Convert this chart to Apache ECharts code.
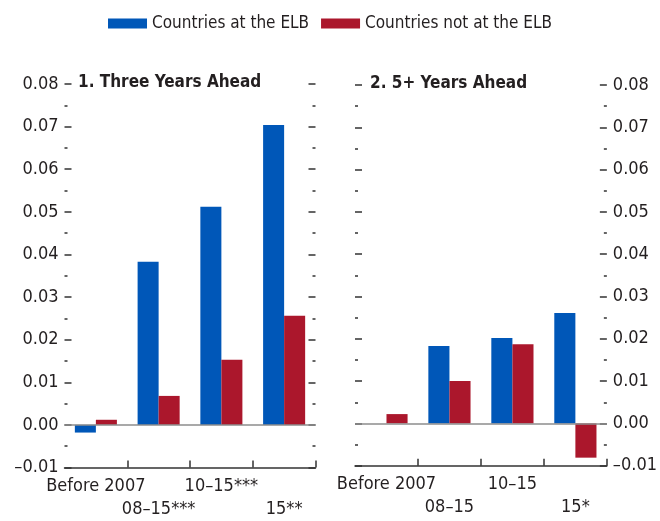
<!doctype html>
<html>
<head>
    <meta charset="utf-8">
    <title>ELB</title>
    <script src="https://cdn.jsdelivr.net/npm/echarts@6/dist/echarts.min.js"></script>
    <style>
        html, body { margin: 0; padding: 0; background: #fff; }
    </style>
</head>
<body>
    <div id="main" style="width: 660px;height:521px;"></div>
</body>
<script type="text/javascript">
    // data
    var seriesNames = ['Countries at the ELB', 'Countries not at the ELB'];
    var catsThree = ['Before 2007', '08–15***', '10–15***', '15**'];
    var catsFive = ['Before 2007', '08–15', '10–15', '15*'];
    var elbThree = [-0.0018, 0.0383, 0.0512, 0.0704];
    var notElbThree = [0.0012, 0.0068, 0.0153, 0.0256];
    var elbFive = [0, 0.0183, 0.0202, 0.0261];
    var notElbFive = [0.0022, 0.0100, 0.0187, -0.0081];
    var yMin = -0.01, yMax = 0.08, yStep = 0.01;

    var FONT = '"DejaVu Sans Condensed", "Liberation Sans", sans-serif';
    var TXT = '#231f20';
    var BLUE = '#0057b8';
    var RED = '#ab172c';

    function yLabel(v) {
        var s = Math.abs(v).toFixed(2);
        return v < 0 ? '–' + s : s;
    }

    function yAxisFor(grid, pos, labels) {
        return {
            type: 'value', gridIndex: grid, position: pos,
            min: yMin, max: yMax, interval: yStep,
            axisLine: { show: false },
            splitLine: { show: false },
            axisTick: { show: true, inside: true, length: 7, lineStyle: { color: '#333', width: 1.5 } },
            minorTick: { show: true, splitNumber: 2, length: 3, lineStyle: { color: '#333', width: 1.5 } },
            axisLabel: { show: labels, margin: 6, formatter: yLabel, color: TXT, fontSize: 18, fontFamily: FONT }
        };
    }

    function xAxisFor(grid, cats) {
        return {
            type: 'category', gridIndex: grid, data: cats, position: 'bottom',
            axisLine: { onZero: false, lineStyle: { color: '#333', width: 1.5 } },
            axisTick: {
                show: true, inside: true, length: 7, lineStyle: { color: '#333', width: 1.5 },
                interval: function (i) { return i > 0; }
            },
            axisLabel: {
                margin: 7, interval: 0, color: TXT, fontSize: 18, fontFamily: FONT, lineHeight: 23,
                formatter: function (v, i) { return i % 2 ? '\n' + v : v; }
            }
        };
    }

    var zeroLine = {
        silent: true, symbol: 'none', label: { show: false },
        lineStyle: { color: '#8c8c8c', type: 'solid', width: 1.5 },
        data: [{ yAxis: 0 }]
    };

    function bars(name, data, axis, color, mark) {
        var s = {
            name: name, type: 'bar', data: data,
            xAxisIndex: axis, yAxisIndex: axis * 2,
            barGap: 0, barCategoryGap: '33%',
            itemStyle: { color: color }
        };
        if (mark) s.markLine = zeroLine;
        return s;
    }

    var myChart = echarts.init(document.getElementById('main'));
    var option = {
        animation: false,
        textStyle: { fontFamily: FONT },
        legend: {
            top: 10, left: 'center', icon: 'rect', itemWidth: 39, itemHeight: 10, itemGap: 12,
            textStyle: { color: TXT, fontSize: 17, fontFamily: FONT },
            data: seriesNames
        },
        title: [
            { text: '1. Three Years Ahead', left: 78, top: 73, padding: 0,
              textStyle: { fontSize: 17, fontWeight: 'bold', color: TXT, fontFamily: FONT, lineHeight: 20 } },
            { text: '2. 5+ Years Ahead', left: 370, top: 74, padding: 0,
              textStyle: { fontSize: 17, fontWeight: 'bold', color: TXT, fontFamily: FONT, lineHeight: 20 } }
        ],
        grid: [
            { left: 64.5, right: 344.5, top: 84, bottom: 53.5 },
            { left: 355, right: 47.5, top: 85, bottom: 55.3 }
        ],
        xAxis: [xAxisFor(0, catsThree), xAxisFor(1, catsFive)],
        yAxis: [
            yAxisFor(0, 'left', true), yAxisFor(0, 'right', false),
            yAxisFor(1, 'left', false), yAxisFor(1, 'right', true)
        ],
        series: [
            bars(seriesNames[0], elbThree, 0, BLUE, false),
            bars(seriesNames[1], notElbThree, 0, RED, true),
            bars(seriesNames[0], elbFive, 1, BLUE, false),
            bars(seriesNames[1], notElbFive, 1, RED, true)
        ]
    };
    myChart.setOption(option);
</script>
</html>
